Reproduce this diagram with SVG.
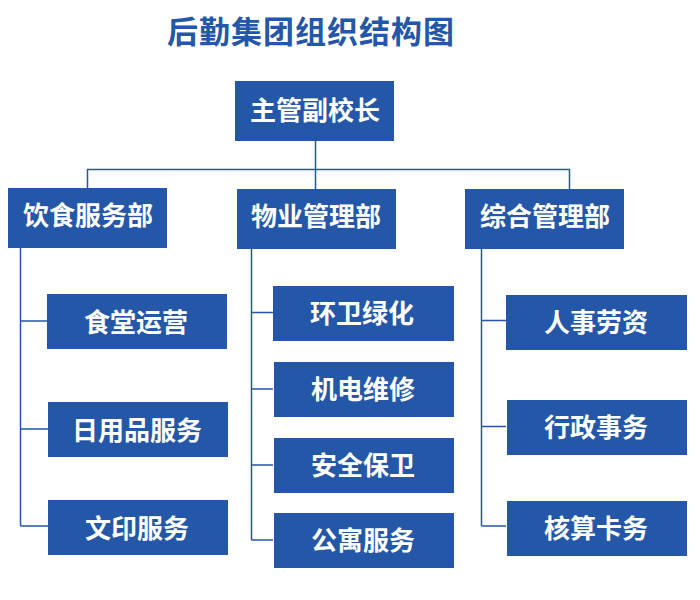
<svg xmlns="http://www.w3.org/2000/svg" width="700" height="600" viewBox="0 0 700 600">
  <style>
    .box { fill: #2457a8; }
    .lbl { fill: #ffffff; font-family: "Noto Sans CJK SC", "Noto Sans", sans-serif; font-weight: bold; font-size: 26px; text-anchor: middle; dominant-baseline: central; }
    .title { fill: #2457a8; font-family: "Noto Sans CJK SC", "Noto Sans", sans-serif; font-weight: bold; font-size: 31px; letter-spacing: 1px; text-anchor: middle; dominant-baseline: central; }
    .ln { stroke: #2457a8; stroke-width: 1.5; fill: none; }
  </style>
  <rect width="700" height="600" fill="#ffffff"/>
  <text class="title" x="311" y="29">后勤集团组织结构图</text>

  <g id="connectors">
    <path class="ln" d="M315.5 141 V169.5 M87.5 188 V169.5 H569.5 V189 M315.5 169.5 V189"/>
    <path class="ln" d="M20.5 248 V526 M20.5 321 H47 M20.5 429 H48 M20.5 526 H48"/>
    <path class="ln" d="M251.5 249 V540 M251.5 312.5 H273 M251.5 389 H273 M251.5 465 H273 M251.5 540 H273"/>
    <path class="ln" d="M481.5 249 V526 M481.5 320.5 H506 M481.5 426.5 H506 M481.5 526 H506"/>
  </g>

  <g id="n-top"><rect class="box" x="235" y="81" width="159" height="60"/><text class="lbl" x="315" y="108">主管副校长</text></g>

  <g id="n-yinshi"><rect class="box" x="8" y="188" width="159" height="60"/><text class="lbl" x="88" y="213">饮食服务部</text></g>
  <g id="n-wuye"><rect class="box" x="237" y="189" width="159" height="60"/><text class="lbl" x="316" y="214">物业管理部</text></g>
  <g id="n-zonghe"><rect class="box" x="465" y="189" width="159" height="60"/><text class="lbl" x="545" y="214">综合管理部</text></g>

  <g id="n-shitang"><rect class="box" x="47" y="294" width="180" height="55"/><text class="lbl" x="136" y="320">食堂运营</text></g>
  <g id="n-riyong"><rect class="box" x="48" y="402" width="180" height="55"/><text class="lbl" x="137" y="428">日用品服务</text></g>
  <g id="n-wenyin"><rect class="box" x="48" y="500" width="180" height="55"/><text class="lbl" x="137" y="526">文印服务</text></g>

  <g id="n-huanwei"><rect class="box" x="273" y="286" width="181" height="55"/><text class="lbl" x="362" y="311">环卫绿化</text></g>
  <g id="n-jidian"><rect class="box" x="274" y="362" width="180" height="55"/><text class="lbl" x="363" y="387">机电维修</text></g>
  <g id="n-anquan"><rect class="box" x="274" y="438" width="180" height="55"/><text class="lbl" x="363" y="463">安全保卫</text></g>
  <g id="n-gongyu"><rect class="box" x="274" y="513" width="180" height="55"/><text class="lbl" x="363" y="538">公寓服务</text></g>

  <g id="n-renshi"><rect class="box" x="506" y="295" width="181" height="55"/><text class="lbl" x="596" y="320">人事劳资</text></g>
  <g id="n-xingzheng"><rect class="box" x="507" y="400" width="180" height="55"/><text class="lbl" x="596" y="425">行政事务</text></g>
  <g id="n-hesuan"><rect class="box" x="507" y="501" width="180" height="55"/><text class="lbl" x="596" y="526">核算卡务</text></g>
</svg>
